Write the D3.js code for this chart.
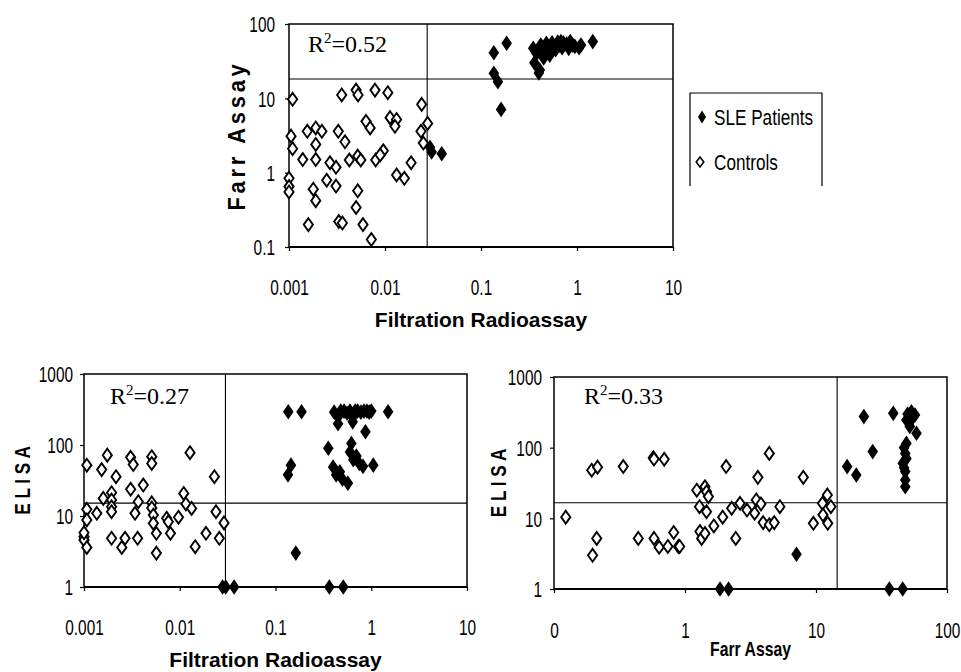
<!DOCTYPE html>
<html><head><meta charset="utf-8">
<script src="https://cdn.jsdelivr.net/npm/d3@7"></script>
<style>
html,body{margin:0;padding:0;background:#fff;}
svg{display:block;}
.tick-lbl{font-family:"Liberation Sans",Arial,sans-serif;font-size:22px;fill:#000;}
.ax-title{font-family:"Liberation Sans",Arial,sans-serif;font-weight:bold;font-size:21px;fill:#000;}
.r2{font-family:"Liberation Serif","Times New Roman",serif;font-size:24px;fill:#000;}
.leg{font-family:"Liberation Sans",Arial,sans-serif;font-size:22px;fill:#000;}
</style>
</head><body>
<svg id="chart" width="961" height="672"></svg>
<script>
// ---------- DATA ----------
// Top panel: Filtration Radioassay (x) vs Farr Assay (y)
const topXTicks = [0.001, 0.01, 0.1, 1, 10];
const topXLabels = ["0.001", "0.01", "0.1", "1", "10"];
const topYTicks = [0.1, 1, 10, 100];
const topYLabels = ["0.1", "1", "10", "100"];
const topCut = [0.0275, 18.2];
const topSLE = [
  [0.136,41],[0.185,55],[0.136,21.7],[0.15,16.7],[0.162,7.1],
  [0.0294,2.2],[0.0306,1.9],[0.039,1.8],
  [0.36,30],[0.41,24],[0.35,47],[0.38,40],[0.42,52],[0.45,44],[0.48,55],[0.5,48],
  [0.52,38],[0.55,56],[0.58,50],[0.6,45],[0.63,57],[0.66,52],[0.7,48],[0.72,56],
  [0.78,54],[0.82,47],[0.85,58],[0.9,52],[0.95,50],[1.05,48],[1.1,52],[1.46,58],
  [0.45,35],[0.4,22],[0.53,45],[0.68,58]
];
const topControls = [
  [0.00109,9.7],[0.00354,11.1],[0.005,12.9],[0.00524,11.1],[0.00787,12.9],[0.0107,11.9],
  [0.0241,8.3],[0.00634,4.9],[0.007,4.0],[0.0113,5.5],[0.0132,5.2],[0.0127,4.2],
  [0.0278,4.6],[0.0237,3.6],[0.0251,2.5],[0.00105,3.1],[0.00109,2.1],[0.00155,3.6],
  [0.0019,4.0],[0.0022,3.6],[0.0019,2.4],[0.00139,1.5],[0.0019,1.5],[0.00326,3.6],
  [0.00383,2.6],[0.00267,1.36],[0.00309,1.18],[0.00425,1.48],[0.0052,1.67],[0.0056,1.48],
  [0.008,1.48],[0.0096,1.97],[0.0089,1.73],[0.0187,1.36],[0.001,0.84],[0.001,0.65],
  [0.001,0.55],[0.00179,0.6],[0.0019,0.42],[0.00247,0.79],[0.00309,0.66],[0.0132,0.93],
  [0.0159,0.84],[0.0052,0.57],[0.005,0.34],[0.00159,0.2],[0.0033,0.22],[0.0036,0.21],
  [0.0059,0.2],[0.0072,0.126]
];

// Bottom-left panel: Filtration Radioassay (x) vs ELISA (y)
const blXTicks = [0.001, 0.01, 0.1, 1, 10];
const blXLabels = ["0.001", "0.01", "0.1", "1", "10"];
const blYTicks = [1, 10, 100, 1000];
const blYLabels = ["1", "10", "100", "1000"];
const blCut = [0.030, 15.2];
const blSLE = [
  [0.136,294],[0.187,294],[0.145,52],[0.135,38],[0.163,3.0],[0.356,90],
  [0.4,49],[0.43,38],[0.47,42],[0.5,33],[0.57,29],[0.62,105],[0.6,80],[0.65,62],
  [0.7,70],[0.75,55],[0.82,50],[0.87,154],[1.05,52],
  [0.41,290],[0.45,250],[0.48,300],[0.52,300],[0.56,280],[0.6,300],[0.64,250],
  [0.68,300],[0.72,300],[0.78,290],[0.84,300],[0.9,300],[0.95,290],[1.0,300],
  [1.5,294],[0.45,200],[0.64,212],
  [0.028,1],[0.0302,1],[0.037,1],[0.365,1],[0.51,1]
];
const blControls = [
  [0.00107,52],[0.00153,45],[0.00175,72],[0.00216,35.8],[0.00307,67],[0.00327,53],
  [0.0051,68.5],[0.0051,55],[0.0128,78],[0.023,35.8],[0.00307,23.8],[0.00416,27.3],
  [0.00194,21.3],[0.00159,17.7],[0.00194,16.8],[0.00194,13.5],[0.00194,11.5],
  [0.00107,12.4],[0.00136,10.9],[0.00107,8.8],[0.001,5.1],[0.001,4.6],[0.001,5.8],
  [0.00107,3.6],[0.00194,4.85],[0.00268,4.85],[0.00248,3.6],[0.00363,4.85],
  [0.00341,10.9],[0.00369,15.9],[0.0051,15.3],[0.0051,13],[0.0053,10.3],[0.0053,7.9],
  [0.0057,5.7],[0.0057,3.0],[0.0073,9.3],[0.0076,8.3],[0.008,5.7],[0.0097,9.6],
  [0.011,20.8],[0.0116,14.8],[0.0133,12.8],[0.0145,3.7],[0.0188,5.7],[0.0239,11.5],
  [0.0259,4.85],[0.029,8.0]
];

// Bottom-right panel: Farr Assay (x) vs ELISA (y)
const brXTicks = [0.1, 1, 10, 100];
const brXLabels = ["0", "1", "10", "100"];
const brYTicks = [1, 10, 100, 1000];
const brYLabels = ["1", "10", "100", "1000"];
const brCut = [14.5, 16.6];
const brSLE = [
  [7.1,3.1],[17.3,54],[20.3,41],[23.2,275],[27.1,88],[38.9,306],
  [53.5,322],[57,290],[49,247],[58.5,160],[49,115],[48,83],[46,60],[48,46],
  [48,35],[48,28],[50,300],[55,270],[52,200],[47,100],[49,70],[47,52],
  [1.85,1],[2.15,1],[36.3,1],[45.9,1]
];
const brControls = [
  [0.123,10.4],[0.194,48],[0.215,53],[0.338,54],[0.573,72],[0.58,69],[0.694,68.5],
  [2.06,54],[0.212,5.2],[0.197,3.0],[0.44,5.2],[0.58,5.2],[0.635,3.9],[0.74,4.0],
  [0.82,6.3],[0.89,4.0],[0.91,4.0],[1.23,25],[1.42,28],[1.46,23.8],[1.51,20.3],
  [1.29,14.6],[1.46,12.4],[1.3,6.5],[1.34,5.2],[1.42,6.1],[1.66,7.8],[1.94,10.4],
  [2.27,13.9],[2.63,16.3],[2.44,5.2],[2.97,13.1],[4.4,83],[3.6,38],[8.0,38],
  [3.5,18.2],[3.8,16],[3.4,11.8],[3.95,8.7],[4.4,8.1],[4.8,8.7],[5.3,14.6],
  [9.55,8.5],[11.2,16.3],[12.2,21.4],[13,14.6],[11.3,11.2],[12.3,8.5]
];

const legendLabels = ["SLE Patients", "Controls"];

// ---------- DRAW ----------
const svg = d3.select("#chart");
const NARROW = 0.7;

function diamond(w, h) {
  return "M0," + (-h) + "L" + w + ",0L0," + h + "L" + (-w) + ",0Z";
}
const filledPath = diamond(5.3, 7.8);
const openPath = diamond(4.6, 6.4);

function panel(cfg) {
  const x = d3.scaleLog().domain([cfg.xTicks[0], cfg.xTicks[cfg.xTicks.length - 1]]).range([cfg.l, cfg.r]);
  const y = d3.scaleLog().domain([cfg.yTicks[0], cfg.yTicks[cfg.yTicks.length - 1]]).range([cfg.b, cfg.t]);
  const g = svg.append("g");

  const xa = d3.axisBottom(x).tickValues(cfg.xTicks).tickFormat((d, i) => cfg.xLabels[i]).tickSize(4).tickSizeOuter(0);
  const ya = d3.axisLeft(y).tickValues(cfg.yTicks).tickFormat((d, i) => cfg.yLabels[i]).tickSize(4).tickSizeOuter(0);
  const gx = g.append("g").attr("transform", "translate(0," + cfg.b + ")").call(xa);
  const gy = g.append("g").attr("transform", "translate(" + cfg.l + ",0)").call(ya);
  [gx, gy].forEach(a => {
    a.select(".domain").remove();
    a.selectAll("line").attr("stroke", "#000").attr("stroke-width", 1.2);
    a.selectAll("text").attr("class", "tick-lbl").attr("font-size", null).attr("font-family", null)
      .attr("fill", "#000").attr("transform", "scale(" + NARROW + ",1)");
  });
  gx.selectAll("text").attr("y", cfg.xLblDy).attr("dy", null);
  gy.selectAll("text").attr("x", -(cfg.l - cfg.yLblRight) / NARROW).attr("dy", "0.36em");

  // thresholds
  g.append("line").attr("x1", x(cfg.cut[0])).attr("x2", x(cfg.cut[0])).attr("y1", cfg.t).attr("y2", cfg.b)
    .attr("stroke", "#000").attr("stroke-width", 1.1);
  g.append("line").attr("x1", cfg.l).attr("x2", cfg.r).attr("y1", y(cfg.cut[1])).attr("y2", y(cfg.cut[1]))
    .attr("stroke", "#000").attr("stroke-width", 1.1);

  // frame
  g.append("rect").attr("x", cfg.l).attr("y", cfg.t).attr("width", cfg.r - cfg.l).attr("height", cfg.b - cfg.t)
    .attr("fill", "none").attr("stroke", "#000").attr("stroke-width", 1.5);
  g.append("line").attr("x1", cfg.l).attr("x2", cfg.r).attr("y1", cfg.b).attr("y2", cfg.b)
    .attr("stroke", "#000").attr("stroke-width", 2);

  // points
  g.append("g").selectAll("path").data(cfg.controls).join("path")
    .attr("d", openPath).attr("transform", d => "translate(" + x(d[0]) + "," + y(d[1]) + ")")
    .attr("fill", "#fff").attr("stroke", "#000").attr("stroke-width", 1.9);
  g.append("g").selectAll("path").data(cfg.sle).join("path")
    .attr("d", filledPath).attr("transform", d => "translate(" + x(d[0]) + "," + y(d[1]) + ")")
    .attr("fill", "#000");

  // R2 text
  const r = g.append("text").attr("class", "r2").attr("x", cfg.r2x).attr("y", cfg.r2y);
  r.append("tspan").text("R");
  r.append("tspan").attr("font-size", "15px").attr("dy", "-9").text("2");
  r.append("tspan").attr("dy", "9").text("=" + cfg.r2);

  // axis titles
  g.append("text").attr("class", "ax-title")
    .attr("transform", "translate(" + ((cfg.l + cfg.r) / 2) + "," + cfg.xTitleY + ") scale(" + cfg.xTitleScale + ",1)")
    .attr("text-anchor", "middle").style("font-size", cfg.xTitleSize).text(cfg.xTitle);
  g.append("text").attr("class", "ax-title")
    .attr("transform", "translate(" + cfg.yTitleX + "," + ((cfg.t + cfg.b) / 2) + ") rotate(-90) scale(" + cfg.yTitleScale + ",1)")
    .attr("text-anchor", "middle").attr("dy", "0.36em").style("letter-spacing", cfg.yTitleSpacing)
    .style("font-size", cfg.yTitleSize).text(cfg.yTitle);
}

panel({l: 289, t: 24, r: 673, b: 247, xTicks: topXTicks, xLabels: topXLabels, yTicks: topYTicks, yLabels: topYLabels,
  cut: topCut, sle: topSLE, controls: topControls, r2: "0.52", r2x: 308, r2y: 52,
  xTitle: "Filtration Radioassay", xTitleY: 327, xTitleSize: "21px", xTitleScale: 1,
  yTitle: "Farr Assay", yTitleX: 237, yTitleSpacing: "4px", yTitleSize: "23px", yTitleScale: 0.95,
  xLblDy: 48, yLblRight: 275});

panel({l: 84, t: 374, r: 467, b: 587, xTicks: blXTicks, xLabels: blXLabels, yTicks: blYTicks, yLabels: blYLabels,
  cut: blCut, sle: blSLE, controls: blControls, r2: "0.27", r2x: 110, r2y: 404,
  xTitle: "Filtration Radioassay", xTitleY: 667, xTitleSize: "21px", xTitleScale: 1,
  yTitle: "E L I S A", yTitleX: 22, yTitleSpacing: "0px", yTitleSize: "22px", yTitleScale: 0.78,
  xLblDy: 48, yLblRight: 73});

panel({l: 554, t: 377, r: 947, b: 589, xTicks: brXTicks, xLabels: brXLabels, yTicks: brYTicks, yLabels: brYLabels,
  cut: brCut, sle: brSLE, controls: brControls, r2: "0.33", r2x: 584, r2y: 404,
  xTitle: "Farr Assay", xTitleY: 656, xTitleSize: "21px", xTitleScale: 0.75,
  yTitle: "E L I S A", yTitleX: 498, yTitleSpacing: "0px", yTitleSize: "22px", yTitleScale: 0.78,
  xLblDy: 49, yLblRight: 542});

// legend
const lg = svg.append("g");
lg.append("path").attr("d", "M690,186V93H822V186").attr("fill", "none").attr("stroke", "#000").attr("stroke-width", 1.2);
const legendItems = [{label: legendLabels[0], filled: true, y: 117}, {label: legendLabels[1], filled: false, y: 162}];
legendItems.forEach(it => {
  lg.append("path").attr("d", it.filled ? diamond(4, 6.5) : diamond(3.8, 5))
    .attr("transform", "translate(" + (it.filled ? 702 : 700) + "," + it.y + ")")
    .attr("fill", it.filled ? "#000" : "#fff").attr("stroke", "#000").attr("stroke-width", it.filled ? 0 : 1.6);
  lg.append("text").attr("class", "leg")
    .attr("transform", "translate(714," + it.y + ") scale(0.78,1)")
    .attr("dy", "0.36em").text(it.label);
});
</script>
</body></html>
